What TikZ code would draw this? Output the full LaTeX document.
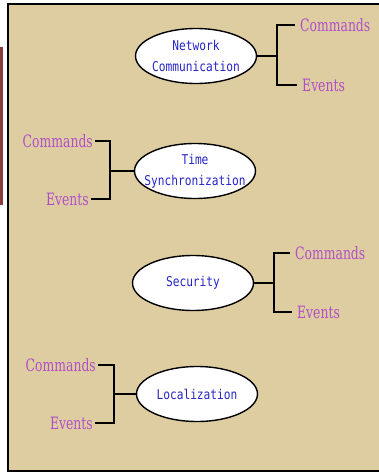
\documentclass[tikz,border=0pt]{standalone}
\usepackage{fontspec}
\setmainfont[FakeStretch=0.81]{DejaVu Serif Condensed}
\newfontfamily\monofnt[FakeStretch=0.83]{DejaVu Sans Mono}
\usetikzlibrary{shapes.geometric}
\definecolor{panelbg}{RGB}{221,205,160}
\definecolor{labpurple}{RGB}{178,78,200}
\definecolor{modblue}{RGB}{38,38,200}
\definecolor{edgered}{RGB}{140,60,60}

\tikzset{
  module/.style={ellipse,draw=black,line width=1.4pt,fill=white,inner xsep=-12pt,inner ysep=0pt,
    minimum width=121pt,minimum height=55pt,align=center,text=modblue,
    font={\monofnt\fontsize{13.5}{21}\selectfont}},
  iface/.style={text=labpurple,inner ysep=2pt,inner xsep=2pt,font={\fontsize{17}{18}\selectfont}},
  ifaceR/.style={iface,inner xsep=5pt,anchor=west},
  ifaceL/.style={iface,anchor=east},
  brace/.style={line width=1.8pt,black}
}

\begin{document}
\begin{tikzpicture}[x=1pt,y=-1pt]
\useasboundingbox (0,0) rectangle (379,474);
\fill[edgered] (0,47) rectangle (2.5,205);
\fill[panelbg] (8,4) rectangle (379,471);
\draw[line width=1.6pt] (380,4) -- (8,4) -- (8,471) -- (380,471);

\node[module] (net) at (196,56) {Network\\Communication};
\node[module] (sync) at (195,171) {Time\\Synchronization};
\node[module] (sec) at (193,283) {Security};
\node[module] (loc) at (197,394) {Localization};

\node[ifaceR] (netCmd) at (295,25) {Commands};
\node[ifaceR] (netEvt) at (297,85) {Events};
\node[ifaceL] (syncCmd) at (95,141) {Commands};
\node[ifaceL] (syncEvt) at (91,199) {Events};
\node[ifaceR] (secCmd) at (290,253) {Commands};
\node[ifaceR] (secEvt) at (292,312) {Events};
\node[ifaceL] (locCmd) at (98,365) {Commands};
\node[ifaceL] (locEvt) at (95,423) {Events};

\coordinate (netJ) at (277,56);
\coordinate (syncJ) at (110,171);
\coordinate (secJ) at (274,283);
\coordinate (locJ) at (114,394);

\draw[brace] (net.east) -- (netJ);
\draw[brace] (netCmd.west) -| (netJ) |- (netEvt.west);
\draw[brace] (sync.west) -- (syncJ);
\draw[brace] (syncCmd.east) -| (syncJ) |- (syncEvt.east);
\draw[brace] (sec.east) -- (secJ);
\draw[brace] (secCmd.west) -| (secJ) |- (secEvt.west);
\draw[brace] (loc.west) -- (locJ);
\draw[brace] (locCmd.east) -| (locJ) |- (locEvt.east);
\end{tikzpicture}
\end{document}
